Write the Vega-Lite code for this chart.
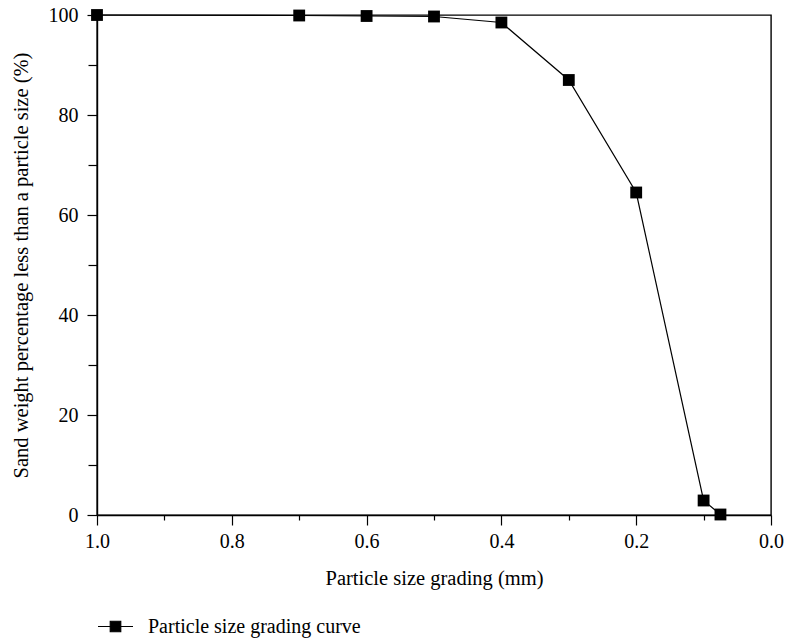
{
  "$schema": "https://vega.github.io/schema/vega-lite/v6.json",
  "width": 674,
  "height": 500,
  "autosize": "none",
  "padding": {"left": 97, "top": 15, "right": 14, "bottom": 124},
  "background": "white",
  "config": {
    "view": {"stroke": "black", "strokeWidth": 1.4},
    "font": "Liberation Serif",
    "axis": {
      "domainColor": "black",
      "domainWidth": 1.4,
      "tickColor": "black",
      "tickWidth": 1.2,
      "grid": false,
      "labelFont": "Liberation Serif",
      "labelFontSize": 20,
      "labelFontWeight": "normal",
      "labelColor": "black",
      "labelFlush": false,
      "titleFont": "Liberation Serif",
      "titleFontSize": 20.5,
      "titleFontWeight": "normal",
      "titleColor": "black"
    }
  },
  "data": {
    "values": [
      {"size": 1.0, "pct": 100},
      {"size": 0.7, "pct": 99.9},
      {"size": 0.6, "pct": 99.8},
      {"size": 0.5, "pct": 99.7},
      {"size": 0.4, "pct": 98.5},
      {"size": 0.3, "pct": 87},
      {"size": 0.2, "pct": 64.5},
      {"size": 0.1, "pct": 2.9},
      {"size": 0.075, "pct": 0.1}
    ]
  },
  "layer": [
    {
      "mark": {"type": "line", "strokeWidth": 1.2},
      "encoding": {
        "x": {
          "field": "size", "type": "quantitative",
          "scale": {"domain": [0, 1], "reverse": true, "nice": false, "zero": false},
          "axis": {
            "orient": "bottom",
            "values": [0, 0.2, 0.4, 0.6, 0.8, 1.0],
            "format": ".1f",
            "tickSize": 10,
            "labelPadding": 6,
            "title": "Particle size grading (mm)",
            "titlePadding": 17
          }
        },
        "y": {
          "field": "pct", "type": "quantitative",
          "scale": {"domain": [0, 100], "nice": false},
          "axis": {
            "orient": "left",
            "values": [0, 20, 40, 60, 80, 100],
            "tickSize": 10,
            "labelPadding": 9,
            "title": "Sand weight percentage less than a particle size (%)",
            "titlePadding": 17
          }
        },
        "color": {
          "datum": "Particle size grading curve",
          "type": "nominal",
          "scale": {"range": ["black"]},
          "legend": {
            "orient": "none",
            "legendX": 0,
            "legendY": 593,
            "title": null,
            "labelFont": "Liberation Serif",
            "labelFontSize": 20,
            "labelColor": "black",
            "labelLimit": 500,
            "labelOffset": 14,
            "symbolType": "M-1,0H1M-0.3,-0.3H0.3V0.3H-0.3Z",
            "symbolSize": 1225,
            "encode": {
              "symbols": {
                "update": {
                  "shape": {"value": "M-1,0H1M-0.3,-0.3H0.3V0.3H-0.3Z"},
                  "size": {"value": 1225},
                  "fill": {"value": "black"},
                  "stroke": {"value": "black"},
                  "strokeWidth": {"value": 1.2},
                  "opacity": {"value": 1}
                }
              }
            }
          }
        }
      }
    },
    {
      "mark": {"type": "point", "shape": "square", "filled": true, "size": 140, "color": "black", "opacity": 1},
      "encoding": {
        "x": {
          "field": "size", "type": "quantitative",
          "axis": {
            "orient": "bottom",
            "values": [0.1, 0.3, 0.5, 0.7, 0.9],
            "tickSize": 5,
            "labels": false,
            "domain": false,
            "title": null
          }
        },
        "y": {
          "field": "pct", "type": "quantitative",
          "axis": {
            "orient": "left",
            "values": [10, 30, 50, 70, 90],
            "tickSize": 9,
            "labels": false,
            "domain": false,
            "title": null
          }
        }
      }
    }
  ],
  "resolve": {"axis": {"x": "independent", "y": "independent"}}
}
